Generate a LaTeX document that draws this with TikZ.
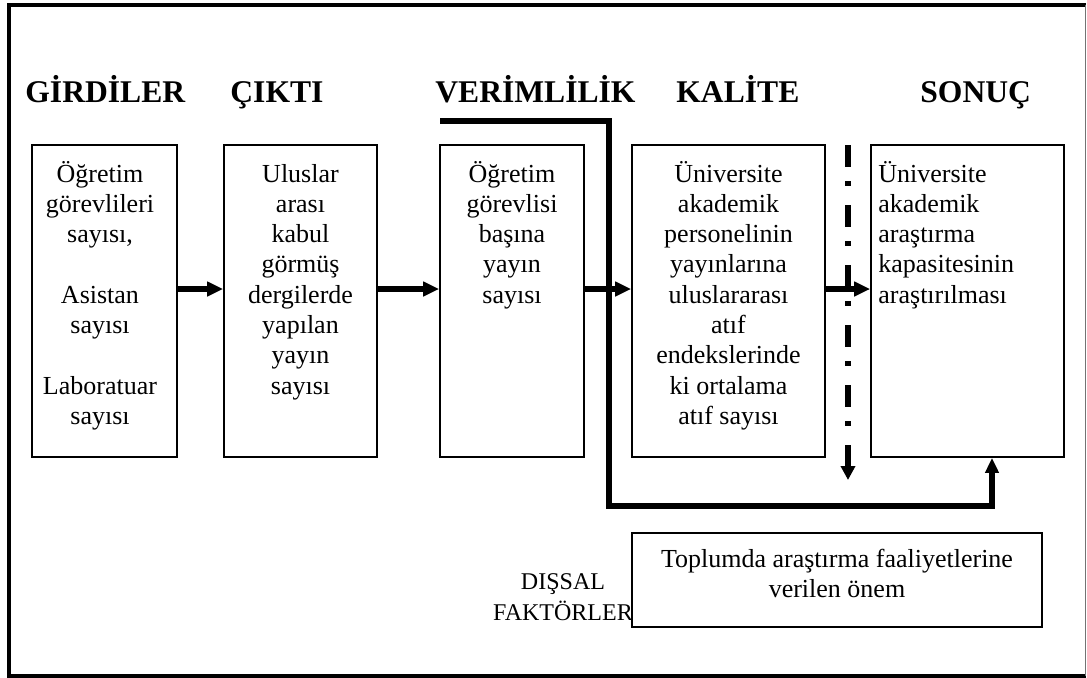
\documentclass[tikz,border=0pt]{standalone}
\usepackage{fontspec}
\setmainfont{Liberation Serif}
\usetikzlibrary{arrows.meta,fit}

\tikzset{
  box/.style={draw, line width=0.8pt, inner sep=0pt},
  body/.style={inner sep=0pt, font=\fontsize{13}{15.15}\selectfont},
  head/.style={inner sep=0pt, anchor=base west, font=\fontsize{15.8}{18}\selectfont\bfseries},
  flow/.style={line width=2.6pt, -{Triangle[length=8pt,width=7pt]}},
  outer/.style={line width=3pt, line join=miter, -{Triangle[length=7.5pt,width=6.5pt]}},
  dashdot/.style={line width=2.6pt, dash pattern=on 11pt off 7pt on 2.5pt off 9.5pt,
                  -{Triangle[length=7pt,width=7pt]}},
  frameline/.style={line width=2pt, line join=miter},
}

\begin{document}
\begin{tikzpicture}[x=0.5pt, y=-0.5pt]
  \useasboundingbox (0,0) rectangle (1087,677);

  % outer frame
  \draw[frameline] (1085.5,4.5) -- (9,4.5) -- (9,675.5) -- (1085.5,675.5);
  \draw[line width=0.5pt, black!55] (1085.5,4.5) -- (1085.5,675.5);

  % column headings
  \node[head] (h1) at (25,102)  {GİRDİLER};
  \node[head] (h2) at (230,102) {ÇIKTI};
  \node[head] (h3) at (435,102) {VERİMLİLİK};
  \node[head] (h4) at (676,102) {KALİTE};
  \node[head] (h5) at (920,102) {SONUÇ};

  % boxes
  \node[box, fit={(32,145) (177,457)}]   (b1) {};
  \node[box, fit={(224,145) (377,457)}]  (b2) {};
  \node[box, fit={(440,145) (584,457)}]  (b3) {};
  \node[box, fit={(632,145) (825,457)}]  (b4) {};
  \node[box, fit={(871,145) (1064,457)}] (b5) {};
  \node[box, fit={(632,533) (1042,627)}] (b6) {};

  % box texts
  \node[body, anchor=base] (t1) at (100,182) {\begin{tabular}[t]{@{}c@{}}Öğretim\\görevlileri\\sayısı,\\ \\Asistan\\sayısı\\ \\Laboratuar\\sayısı\end{tabular}};
  \node[body, anchor=base] (t2) at (300.5,182) {\begin{tabular}[t]{@{}c@{}}Uluslar\\arası\\kabul\\görmüş\\dergilerde\\yapılan\\yayın\\sayısı\end{tabular}};
  \node[body, anchor=base] (t3) at (512,182) {\begin{tabular}[t]{@{}c@{}}Öğretim\\görevlisi\\başına\\yayın\\sayısı\end{tabular}};
  \node[body, anchor=base] (t4) at (728.5,182) {\begin{tabular}[t]{@{}c@{}}Üniversite\\akademik\\personelinin\\yayınlarına\\uluslararası\\atıf\\endekslerinde\\ki ortalama\\atıf sayısı\end{tabular}};
  \node[body, anchor=base west] (t5) at (878,182) {\begin{tabular}[t]{@{}l@{}}Üniversite\\akademik\\araştırma\\kapasitesinin\\araştırılması\end{tabular}};
  \node[body, anchor=base] (t6) at (837,567) {\begin{tabular}[t]{@{}c@{}}Toplumda araştırma faaliyetlerine\\verilen önem\end{tabular}};
  \node[inner sep=0pt, font=\fontsize{12}{15.5}\selectfont, anchor=base] (ext) at (563,589)
    {\begin{tabular}[t]{@{}c@{}}DIŞSAL\\FAKTÖRLER\end{tabular}};

  % flow arrows between the boxes
  \draw[flow] ([yshift=6pt]b1.east) -- ([yshift=6pt]b2.west);
  \draw[flow] ([yshift=6pt]b2.east) -- ([yshift=6pt]b3.west);
  \draw[flow] ([yshift=6pt]b3.east) -- ([yshift=6pt]b4.west);
  \draw[flow] ([yshift=6pt]b4.east) -- ([yshift=6pt]b5.west);

  % productivity link running under the boxes to the result
  \coordinate (vs) at (440,121);
  \coordinate (vb) at (609,506);
  \draw[outer] (vs) -| (vb) -| ([xshift=12.25pt]b5.south);

  % dash-dot arrow between quality and result
  \coordinate (dd1) at (848,145);
  \coordinate (dd2) at (848,480);
  \draw[dashdot] (dd1) -- (dd2);
\end{tikzpicture}
\end{document}
